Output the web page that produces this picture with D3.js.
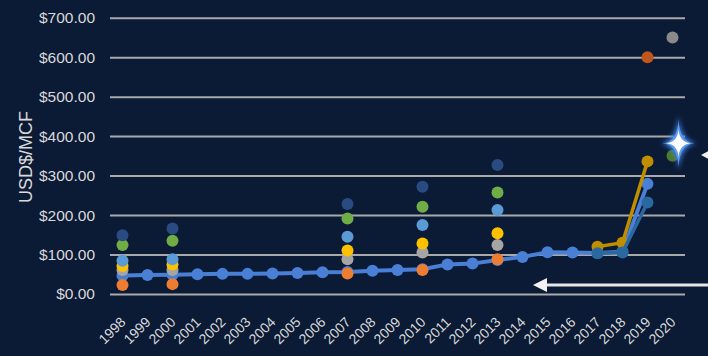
<!DOCTYPE html>
<html>
<head>
<meta charset="utf-8">
<script src="https://cdn.jsdelivr.net/npm/d3@7"></script>
<style>
  html, body { margin: 0; padding: 0; background: #0b1a35; }
  svg { display: block; }
</style>
</head>
<body>
<div id="chart"></div>
<script>
// years on the x axis
const years = ["1998","1999","2000","2001","2002","2003","2004","2005","2006","2007","2008","2009",
               "2010","2011","2012","2013","2014","2015","2016","2017","2018","2019","2020"];
const yTicks = [0, 100, 200, 300, 400, 500, 600, 700];

// main price line
const mainValues = [47, 48, 49, 50, 51, 51, 52, 53, 55, 56, 59, 61, 63, 75, 77, 86, 94, 106, 105, 104, 107, 279, null];

// scattered estimates for some years
const dotYears = ["1998", "2000", "2007", "2010", "2013"];
const orangeDots = [23, 25, 52, 61, 88];
const greyDots = [61, 61, 88, 105, 124];
const yellowDots = [71, 75, 110, 128, 154];
const lightBlueDots = [84, 88, 145, 175, 213];
const greenDots = [124, 135, 191, 221, 257];
const darkBlueDots = [149, 166, 228, 272, 327];

// late lines
const lateYears = ["2017", "2018", "2019"];
const goldValues = [120, 130, 336];
const tealValues = [103, 105, 232];

// single points
const singlePoints = [
  {year: "2019", value: 600, color: "#c0561a"},
  {year: "2020", value: 650, color: "#8a8a8a"},
  {year: "2020", value: 350, color: "#4e7a2c"}
];
const starPoint = {year: "2020", value: 382};

const width = 708, height = 356;
const margin = {top: 17.7, right: 23, bottom: 62, left: 110};
const innerW = width - margin.left - margin.right;
const innerH = height - margin.top - margin.bottom;

const svg = d3.select("#chart").append("svg")
    .attr("width", width)
    .attr("height", height)
    .style("background", "#0b1a35");

const defs = svg.append("defs");
defs.append("filter").attr("id", "glow")
    .attr("x", "-100%").attr("y", "-100%").attr("width", "300%").attr("height", "300%")
  .append("feGaussianBlur").attr("stdDeviation", 2.5);

const g = svg.append("g")
    .attr("transform", `translate(${margin.left},${margin.top})`);

const x = d3.scaleBand().domain(years).range([0, innerW]).padding(0);
const cx = yr => x(yr) + x.bandwidth() / 2;
const y = d3.scaleLinear().domain([0, 700]).range([innerH, 0]);

// gridlines + y labels
const yAxis = g.append("g")
    .call(d3.axisLeft(y).tickValues(yTicks).tickSize(-innerW).tickPadding(15).tickFormat(d3.format("$,.2f")));
yAxis.select(".domain").remove();
yAxis.selectAll(".tick line").attr("stroke", "#a9a9a9").attr("stroke-width", 2);
yAxis.selectAll(".tick text")
    .attr("fill", "#d9d9d9")
    .style("font-family", "Liberation Sans, Arial, sans-serif")
    .style("font-size", "15.5px");

// x labels
const xAxis = g.append("g").attr("transform", `translate(0,${innerH})`)
    .call(d3.axisBottom(x).tickSize(0));
xAxis.select(".domain").remove();
xAxis.selectAll(".tick text")
    .attr("fill", "#d9d9d9")
    .style("font-family", "Liberation Sans, Arial, sans-serif")
    .style("font-size", "14px")
    .attr("text-anchor", "end")
    .attr("dy", 0)
    .attr("y", 0)
    .attr("transform", "translate(4,29) rotate(-45)");

// axis title
svg.append("text")
    .attr("transform", "translate(32,157) rotate(-90)")
    .attr("text-anchor", "middle")
    .attr("fill", "#d9d9d9")
    .style("font-family", "Liberation Sans, Arial, sans-serif")
    .style("font-size", "18px")
    .text("USD$/MCF");

const line = d3.line()
    .defined(d => d.value != null)
    .x(d => cx(d.year))
    .y(d => y(d.value));

// main blue line
const mainData = years.map((yr, i) => ({year: yr, value: mainValues[i]}));
g.append("path").datum(mainData)
    .attr("fill", "none").attr("stroke", "#4a7fd6").attr("stroke-width", 4)
    .attr("d", line);
g.selectAll(".mainDot").data(mainData.filter(d => d.value != null)).enter()
  .append("circle")
    .attr("cx", d => cx(d.year)).attr("cy", d => y(d.value)).attr("r", 6)
    .attr("fill", "#4a7fd6");

// gold and teal lines
[[goldValues, "#bf8f00"], [tealValues, "#2a68a0"]].forEach(([vals, col]) => {
  const data = lateYears.map((yr, i) => ({year: yr, value: vals[i]}));
  g.append("path").datum(data)
      .attr("fill", "none").attr("stroke", col).attr("stroke-width", 3.5)
      .attr("d", line);
  g.selectAll(null).data(data).enter().append("circle")
      .attr("cx", d => cx(d.year)).attr("cy", d => y(d.value)).attr("r", 6)
      .attr("fill", col);
});

// dot series
const dotSeries = [
  [orangeDots, "#ed7d31"],
  [greyDots, "#a5a5a5"],
  [yellowDots, "#ffc000"],
  [lightBlueDots, "#5b9bd5"],
  [greenDots, "#70ad47"],
  [darkBlueDots, "#2a4b82"]
];
dotSeries.forEach(([vals, col]) => {
  g.selectAll(null).data(dotYears.map((yr, i) => ({year: yr, value: vals[i]}))).enter()
    .append("circle")
      .attr("cx", d => cx(d.year)).attr("cy", d => y(d.value)).attr("r", 6)
      .attr("fill", col);
});

g.selectAll(null).data(singlePoints).enter().append("circle")
    .attr("cx", d => cx(d.year)).attr("cy", d => y(d.value)).attr("r", 6)
    .attr("fill", d => d.color);

// sparkle star
function starPath(rx, ry, w) {
  return `M0,${-ry} Q${w},${-w} ${rx},0 Q${w},${w} 0,${ry} Q${-w},${w} ${-rx},0 Q${-w},${-w} 0,${-ry}Z`;
}
const star = g.append("g")
    .attr("transform", `translate(${cx(starPoint.year) + 6},${y(starPoint.value)})`);
star.append("path").attr("d", starPath(18, 28, 2)).attr("fill", "#3f7fe6").attr("filter", "url(#glow)");
star.append("path").attr("d", starPath(16, 24, 1)).attr("fill", "#5d9af0");
star.append("path").attr("d", starPath(12, 14, 1)).attr("fill", "#ffffff");
star.append("circle").attr("r", 3).attr("fill", "#ffffff");

// arrows
svg.append("line")
    .attr("x1", 540).attr("x2", width).attr("y1", 285).attr("y2", 285)
    .attr("stroke", "#e6e6e6").attr("stroke-width", 3);
svg.append("path")
    .attr("d", "M533,285 L547,278 L547,292 Z")
    .attr("fill", "#f2f2f2");
svg.append("path")
    .attr("d", "M701,155 L712,149 L712,161 Z")
    .attr("fill", "#f2f2f2");
</script>
</body>
</html>
